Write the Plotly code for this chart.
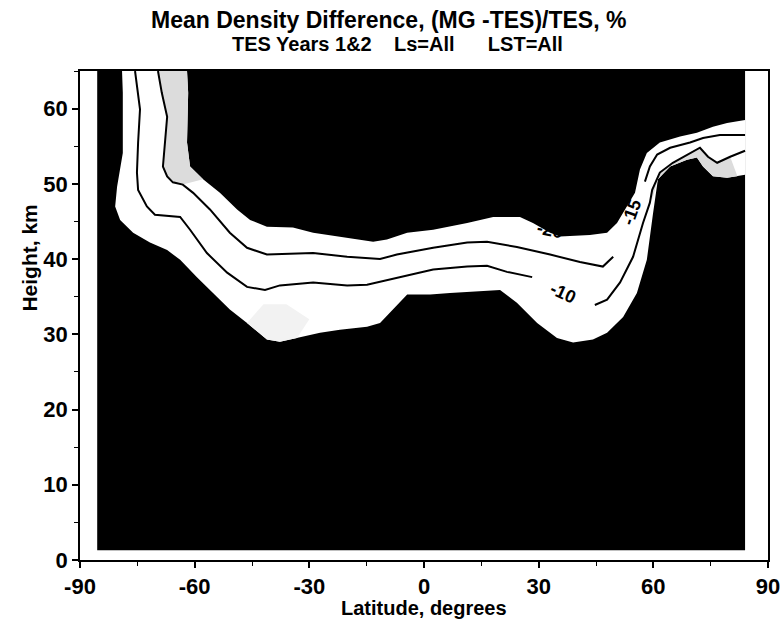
import plotly.graph_objects as go

# ---------------- data ----------------
# data domain (latitude, height) covered by the analysis
domain_lat = [-85.5, 84.0]
domain_h = [1.3, 65.0]

# lower edge of the white band (-5 % contour)
lower_lat = [-79.0, -78.8, -78.8, -80.3, -80.8, -79.5, -76.1, -71.7, -67.2, -63.8, -59.4, -55.2,
             -50.8, -46.3, -41.1, -37.7, -33.2, -27.2, -22.0, -14.9, -11.5, -8.1, -4.4, 1.6, 6.8,
             19.9, 24.3, 29.6, 34.8, 39.0, 44.2, 47.9, 52.1, 55.7, 58.3, 59.9, 61.2, 64.4, 68.8,
             71.4, 73.0, 75.6, 79.3, 84.0]
lower_h = [65.0, 62.1, 54.1, 49.6, 47.0, 45.2, 43.5, 42.2, 41.2, 39.9, 37.6, 35.5, 33.3, 31.5,
           29.3, 29.0, 29.5, 30.2, 30.6, 31.0, 31.5, 33.3, 35.3, 35.3, 35.5, 35.9, 34.2, 31.5,
           29.5, 28.9, 29.3, 30.2, 32.3, 35.5, 39.9, 46.0, 50.6, 52.3, 53.2, 53.5, 52.3, 51.0,
           50.8, 51.2]

# upper edge of the white band (-20 % contour)
upper_lat = [-62.0, -61.7, -62.0, -61.2, -57.8, -53.4, -48.9, -45.5, -41.1, -34.3, -29.0, -20.1,
             -13.3, -9.7, -4.4, 2.4, 11.3, 18.1, 25.1, 28.5, 33.0, 35.6, 43.4, 47.9, 50.5, 55.2,
             56.5, 58.3, 61.7, 67.0, 71.4, 75.6, 79.3, 84.0]
upper_h = [65.0, 62.1, 55.5, 52.3, 50.6, 48.8, 46.6, 45.2, 44.3, 44.2, 43.5, 42.8, 42.3, 42.6,
           43.5, 43.9, 44.8, 45.6, 45.6, 44.8, 43.5, 43.0, 43.2, 43.5, 44.8, 48.8, 51.9, 54.1,
           55.5, 56.3, 56.8, 57.6, 58.1, 58.5]

# -15 % contour line (None = gap for the label)
c15_lat = [-69.6, -68.6, -67.2, -67.8, -68.3, -67.2, -65.7, -63.1, -60.4, -56.0, -50.8, -46.3,
           -41.1, -35.1, -29.0, -20.1, -11.5, -7.1, -2.9, 2.4, 11.3, 16.5, 24.3, 33.0, 40.8,
           46.8, 49.5, None, 57.8, 59.1, 61.0, 64.4, 69.6, 73.0, 77.4, 84.0]
c15_h = [65.0, 62.1, 58.9, 55.5, 52.3, 51.0, 50.2, 49.9, 48.8, 46.6, 43.5, 41.5, 40.6, 40.7,
         40.8, 40.3, 40.0, 40.6, 41.0, 41.5, 42.2, 42.3, 41.6, 40.6, 39.6, 39.0, 40.3, None,
         50.3, 52.3, 53.9, 54.8, 55.5, 56.1, 56.5, 56.5]

# -10 % contour line (None = gap for the label)
c10_lat = [-75.6, -74.3, -74.8, -75.1, -74.8, -72.5, -70.4, -63.8, -61.2, -56.8, -51.5, -46.3,
           -41.6, -37.7, -29.0, -20.1, -14.9, -9.7, -4.4, 2.4, 11.3, 16.5, 21.7, 28.3, None,
           44.7, 47.9, 51.3, 54.7, 57.3, 59.1, 59.7, 61.7, 65.1, 69.6, 72.2, 74.3, 76.7, 80.1, 84.0]
c10_h = [65.0, 59.9, 55.5, 51.5, 49.2, 47.0, 45.9, 45.6, 43.9, 40.8, 38.2, 36.3, 35.9, 36.5,
         36.9, 36.5, 36.6, 37.2, 37.9, 38.6, 39.0, 39.1, 38.3, 37.6, None, 33.9, 34.6, 36.9,
         40.3, 44.8, 47.5, 49.2, 51.5, 52.8, 54.1, 54.8, 53.6, 52.8, 53.6, 54.4]

# light stippled patches
stip1_lat = [-62.0, -61.7, -62.0, -61.2, -57.8, -63.1, -65.7, -67.2, -68.3, -67.8, -67.2, -68.6, -69.6]
stip1_h = [65.0, 62.1, 55.5, 52.3, 50.6, 49.9, 50.2, 51.0, 52.3, 55.5, 58.9, 62.1, 65.0]
stip2_lat = [-46.3, -41.1, -37.7, -33.2, -30.0, -36.0, -42.0]
stip2_h = [31.5, 29.3, 29.0, 29.5, 32.0, 34.0, 34.0]
stip3_lat = [59.7, 61.2, 64.4, 68.8, 71.4, 73.0, 75.6, 79.3, 82.0, 80.1, 76.7, 74.3, 72.2, 69.6,
             65.1, 61.7, 59.7]
stip3_h = [47.9, 50.6, 52.3, 53.2, 53.5, 52.3, 51.0, 50.8, 51.0, 53.6, 52.8, 53.6, 54.8, 54.1,
           52.8, 51.5, 49.2]

# contour labels
label_text = ["-10", "-15", "-20"]
label_lat = [36.4, 54.4, 33.0]
label_h = [35.5, 46.2, 43.9]
label_angle = [25, -70, 12]

x_tickvals = [-90, -60, -30, 0, 30, 60, 90]
x_ticktext = ["-90", "-60", "-30", "0", "30", "60", "90"]
y_tickvals = [0, 10, 20, 30, 40, 50, 60]
y_ticktext = ["0", "10", "20", "30", "40", "50", "60"]

# ---------------- figure ----------------
FONT = "Liberation Sans, Arial, Helvetica, sans-serif"

fig = go.Figure()

# black data domain
fig.add_trace(go.Scatter(
    x=[domain_lat[0], domain_lat[1], domain_lat[1], domain_lat[0], domain_lat[0]],
    y=[domain_h[0], domain_h[0], domain_h[1], domain_h[1], domain_h[0]],
    mode="lines", fill="toself", fillcolor="black", line=dict(width=0, color="black"),
    hoverinfo="skip", showlegend=False))

# white band between -5 and -20 contours
fig.add_trace(go.Scatter(
    x=lower_lat + upper_lat[::-1],
    y=lower_h + upper_h[::-1],
    mode="lines", fill="toself", fillcolor="white", line=dict(width=0, color="white"),
    hoverinfo="skip", showlegend=False))

for sx, sy, col in [(stip1_lat, stip1_h, "#dcdcdc"), (stip2_lat, stip2_h, "#f2f2f2"),
                    (stip3_lat, stip3_h, "#dcdcdc")]:
    fig.add_trace(go.Scatter(x=sx, y=sy, mode="lines", fill="toself", fillcolor=col,
                             line=dict(width=0, color=col), hoverinfo="skip", showlegend=False))

for cx, cy in [(c10_lat, c10_h), (c15_lat, c15_h)]:
    fig.add_trace(go.Scatter(x=cx, y=cy, mode="lines", connectgaps=False,
                             line=dict(width=2, color="black"),
                             hoverinfo="skip", showlegend=False))

for t, lx, ly, ang in zip(label_text, label_lat, label_h, label_angle):
    fig.add_annotation(x=lx, y=ly, xref="x", yref="y", text=t, showarrow=False,
                       textangle=ang, font=dict(family=FONT, size=18, color="black", weight="bold"))

# titles
fig.add_annotation(x=0.449, y=1.105, xref="paper", yref="paper", showarrow=False,
                   text="Mean Density Difference, (MG -TES)/TES, %", yanchor="middle",
                   font=dict(family=FONT, size=23, color="black", weight="bold"))
fig.add_annotation(x=0.462, y=1.056, xref="paper", yref="paper", showarrow=False,
                   text="TES Years 1&amp;2" + "\u00a0" * 4 + "Ls=All" + "\u00a0" * 6 + "LST=All",
                   yanchor="middle",
                   font=dict(family=FONT, size=20, color="black", weight="bold"))
fig.add_annotation(x=0.5, y=-0.099, xref="paper", yref="paper", showarrow=False,
                   text="Latitude, degrees", yanchor="middle",
                   font=dict(family=FONT, size=20, color="black", weight="bold"))
fig.add_annotation(x=-0.073, y=0.618, xref="paper", yref="paper", showarrow=False,
                   text="Height, km", textangle=-90, xanchor="center", yanchor="middle",
                   font=dict(family=FONT, size=21, color="black", weight="bold"))

axis_common = dict(showgrid=False, zeroline=False, showline=True, linecolor="black", linewidth=1.5,
                   mirror=True, ticks="outside", ticklen=6, tickwidth=1.5, tickcolor="black",
                   automargin=False, ticklabeloverflow="allow",
                   tickfont=dict(family=FONT, size=22, color="black", weight="bold"))

fig.update_xaxes(range=[-90, 90], tickmode="array", tickvals=x_tickvals, ticktext=x_ticktext,
                 minor=dict(dtick=15, ticks="outside", ticklen=4, tickwidth=1.2, tickcolor="black"),
                 **axis_common)
fig.update_yaxes(range=[0, 65], tickmode="array", tickvals=y_tickvals, ticktext=y_ticktext,
                 minor=dict(dtick=5, ticks="outside", ticklen=4, tickwidth=1.2, tickcolor="black"),
                 **axis_common)

fig.update_layout(width=782, height=631, margin=dict(l=80, r=14, t=71, b=71),
                  paper_bgcolor="white", plot_bgcolor="white", showlegend=False)

# remove the page's default body margin so the figure starts at the window corner
fig.write_html("out.html", config={"responsive": False, "displayModeBar": False},
               post_script="document.body.style.margin='0px';document.body.style.overflow='hidden';")
